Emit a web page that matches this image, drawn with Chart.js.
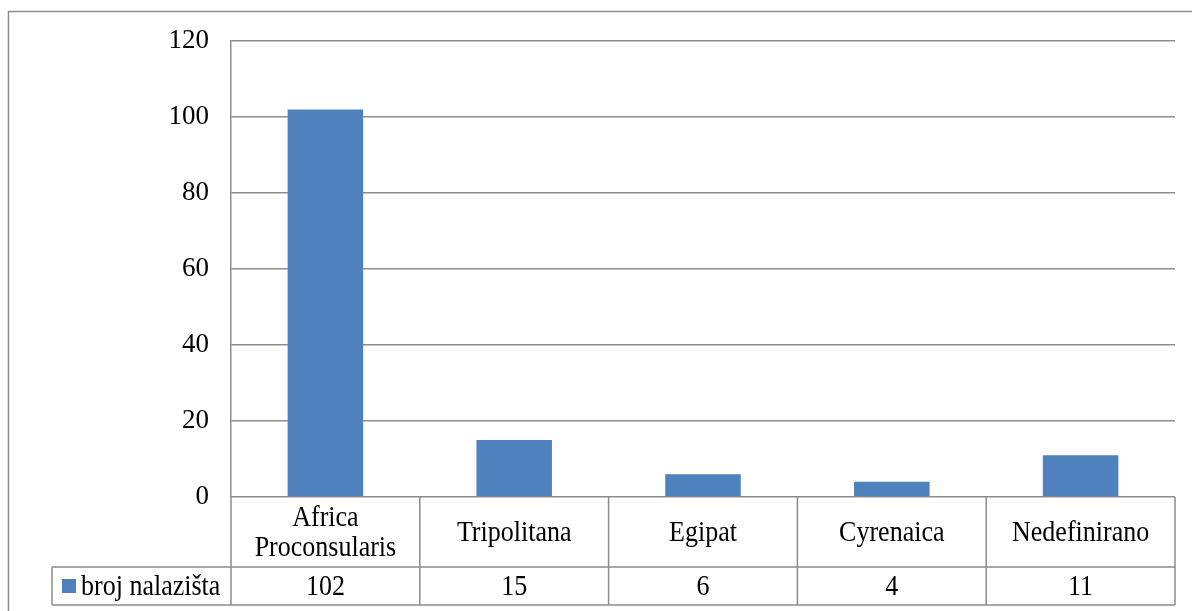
<!DOCTYPE html>
<html>
<head>
<meta charset="utf-8">
<script src="https://cdn.jsdelivr.net/npm/chart.js@4/dist/chart.umd.min.js"></script>
<style>
  html, body { margin: 0; padding: 0; background: #fff; }
  #wrap { width: 1192px; height: 611px; }
</style>
</head>
<body>
<div id="wrap"><canvas id="chart"></canvas></div>
<script>
// data
const categories = [['Africa', 'Proconsularis'], ['Tripolitana'], ['Egipat'], ['Cyrenaica'], ['Nedefinirano']];
const seriesName = 'broj nalazišta';
const counts = [102, 15, 6, 4, 11];
const yTicks = [0, 20, 40, 60, 80, 100, 120];

const FONT = '"Liberation Serif", "Times New Roman", serif';
const LINE = '#8c8c8c';
const BLUE = '#4f81bd';
const STRETCH = 1.15; // text in the source is a bit taller than wide

function tallText(ctx, txt, x, y) {
  ctx.save();
  ctx.translate(x, y);
  ctx.scale(1, STRETCH);
  ctx.fillText(txt, 0, 0);
  ctx.restore();
}

// frame + data table under the plot (Excel style)
const tablePlugin = {
  id: 'dataTable',
  afterDraw(chart) {
    const ctx = chart.ctx;
    const area = chart.chartArea;
    const x = chart.scales.x;
    const top = area.bottom;
    const mid = top + 70;
    const bot = mid + 38;
    const legendLeft = 52;
    const step = (area.right - area.left) / categories.length;

    ctx.save();
    // outer frame
    ctx.strokeStyle = LINE;
    ctx.lineWidth = 1.5;
    ctx.strokeRect(8.5, 11.5, 1300, 800);

    ctx.beginPath();
    ctx.moveTo(legendLeft, mid); ctx.lineTo(area.right, mid);
    ctx.moveTo(legendLeft, bot); ctx.lineTo(area.right, bot);
    ctx.moveTo(legendLeft, mid); ctx.lineTo(legendLeft, bot);
    for (let i = 0; i <= categories.length; i++) {
      const lx = area.left + step * i;
      ctx.moveTo(lx, top); ctx.lineTo(lx, bot);
    }
    ctx.stroke();

    ctx.fillStyle = '#000';
    ctx.font = '26px ' + FONT;
    ctx.textAlign = 'center';
    ctx.textBaseline = 'middle';
    categories.forEach((lines, i) => {
      const cx = x.getPixelForValue(i);
      const cy = (top + mid) / 2 + 1;
      const lh = 30;
      lines.forEach((ln, j) => {
        tallText(ctx, ln, cx, cy + (j - (lines.length - 1) / 2) * lh);
      });
      tallText(ctx, String(counts[i]), cx, (mid + bot) / 2 + 1);
    });

    // legend key
    const ry = (mid + bot) / 2;
    ctx.fillStyle = BLUE;
    ctx.fillRect(legendLeft + 10, ry - 7, 14, 14);
    ctx.fillStyle = '#000';
    ctx.textAlign = 'left';
    tallText(ctx, seriesName, legendLeft + 29, ry + 1);
    ctx.restore();
  }
};

new Chart(document.getElementById('chart'), {
  type: 'bar',
  data: {
    labels: categories.map(c => c.join(' ')),
    datasets: [{
      label: seriesName,
      data: counts,
      backgroundColor: BLUE,
      borderWidth: 0,
      barPercentage: 0.4,
      categoryPercentage: 1.0
    }]
  },
  options: {
    responsive: true,
    maintainAspectRatio: false,
    animation: false,
    layout: { padding: { left: 0, top: 41, right: 17, bottom: 114 } },
    plugins: {
      legend: { display: false },
      tooltip: { enabled: false }
    },
    scales: {
      x: { display: false },
      y: {
        min: 0,
        max: 120,
        afterFit: (s) => { s.width = 231; },
        afterBuildTicks: (s) => { s.ticks = yTicks.map(v => ({ value: v })); },
        ticks: {
          color: '#000',
          font: { family: FONT, size: 27 },
          padding: 22
        },
        grid: { color: LINE, lineWidth: 1.5, drawTicks: false },
        border: { color: LINE, width: 1.5 }
      }
    }
  },
  plugins: [tablePlugin]
});
</script>
</body>
</html>
